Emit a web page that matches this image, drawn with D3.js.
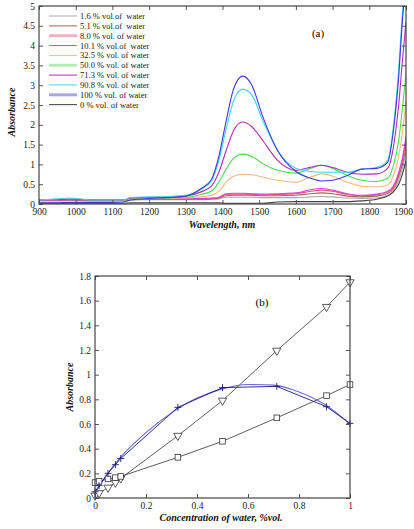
<!DOCTYPE html>
<html>
<head>
<meta charset="utf-8">
<script src="https://cdn.jsdelivr.net/npm/d3@7"></script>
<style>
    body { margin: 0; background: #fff; }
    svg { display: block; }
    text { font-family: "Liberation Serif", "Times New Roman", "DejaVu Serif", serif; }
    .tick-label { font-size: 9.5px; fill: #222; }
    .axis-title { font-size: 10px; font-weight: bold; font-style: italic; fill: #111; }
    .legend-text { font-size: 8.5px; fill: #222; white-space: pre; }
</style>
</head>
<body>
<div id="chart"></div>
<script>
// ---- panel (a): spectra ----
const wavelengths = [900, 950, 980, 1000, 1050, 1100, 1130, 1150, 1200, 1250, 1300, 1340, 1370, 1390, 1410, 1430, 1455, 1480, 1510, 1550, 1600, 1640, 1670, 1700, 1740, 1780, 1820, 1850, 1865, 1880, 1890, 1900];

const water1_6  = [0.08, 0.08, 0.09, 0.09, 0.08, 0.08, 0.08, 0.1, 0.11, 0.11, 0.11, 0.11, 0.12, 0.13, 0.17, 0.17, 0.17, 0.17, 0.16, 0.16, 0.16, 0.18, 0.19, 0.18, 0.15, 0.14, 0.15, 0.22, 0.32, 0.6, 0.9, 1.3];
const water5_1  = [0.09, 0.09, 0.1, 0.1, 0.09, 0.09, 0.09, 0.11, 0.12, 0.12, 0.12, 0.12, 0.13, 0.15, 0.21, 0.22, 0.22, 0.22, 0.21, 0.21, 0.22, 0.26, 0.28, 0.26, 0.2, 0.18, 0.2, 0.27, 0.38, 0.7, 1.0, 1.45];
const water8_0  = [0.1, 0.1, 0.11, 0.11, 0.1, 0.1, 0.1, 0.12, 0.13, 0.13, 0.13, 0.13, 0.14, 0.16, 0.24, 0.25, 0.25, 0.24, 0.23, 0.24, 0.26, 0.32, 0.35, 0.32, 0.24, 0.21, 0.23, 0.3, 0.42, 0.75, 1.1, 1.6];
const water10_1 = [0.1, 0.1, 0.11, 0.11, 0.1, 0.1, 0.1, 0.12, 0.13, 0.13, 0.13, 0.14, 0.15, 0.17, 0.26, 0.27, 0.27, 0.26, 0.25, 0.26, 0.28, 0.36, 0.39, 0.35, 0.26, 0.22, 0.25, 0.32, 0.45, 0.8, 1.15, 1.7];
const water32_5 = [0.1, 0.11, 0.12, 0.12, 0.1, 0.1, 0.1, 0.12, 0.14, 0.14, 0.15, 0.18, 0.22, 0.32, 0.55, 0.7, 0.75, 0.74, 0.68, 0.6, 0.55, 0.68, 0.76, 0.7, 0.55, 0.45, 0.43, 0.48, 0.7, 1.2, 1.8, 2.6];
const water50_0 = [0.1, 0.12, 0.12, 0.12, 0.1, 0.1, 0.1, 0.14, 0.16, 0.16, 0.17, 0.24, 0.32, 0.55, 0.88, 1.15, 1.26, 1.2, 1.02, 0.85, 0.78, 0.9, 0.98, 0.9, 0.72, 0.6, 0.57, 0.65, 0.95, 1.6, 2.4, 3.3];
const water71_3 = [0.1, 0.11, 0.12, 0.12, 0.1, 0.1, 0.1, 0.15, 0.17, 0.17, 0.2, 0.3, 0.45, 0.8, 1.35, 1.85, 2.07, 1.95, 1.6, 1.1, 0.85, 0.93, 0.98, 0.92, 0.8, 0.75, 0.76, 0.9, 1.4, 2.5, 3.6, 4.6];
const water90_8 = [0.1, 0.13, 0.15, 0.14, 0.1, 0.1, 0.1, 0.17, 0.18, 0.19, 0.22, 0.36, 0.58, 1.1, 1.9, 2.6, 2.9, 2.75, 2.1, 1.35, 0.9, 0.82, 0.8, 0.8, 0.8, 0.88, 0.92, 1.1, 1.9, 3.4, 4.8, 5.8];
const water100  = [0.03, 0.03, 0.04, 0.04, 0.04, 0.04, 0.05, 0.1, 0.14, 0.16, 0.2, 0.38, 0.62, 1.2, 2.1, 2.9, 3.23, 3.0, 2.2, 1.35, 0.82, 0.65, 0.58, 0.6, 0.72, 0.88, 0.9, 1.05, 1.8, 3.2, 4.6, 5.6];
const water0    = [0.02, 0.02, 0.02, 0.02, 0.02, 0.02, 0.02, 0.03, 0.03, 0.03, 0.03, 0.03, 0.03, 0.03, 0.02, 0.02, 0.02, 0.02, 0.02, 0.05, 0.06, 0.06, 0.06, 0.06, 0.06, 0.08, 0.12, 0.2, 0.3, 0.5, 0.75, 1.1];

const legendLabels = ["1.6 % vol.of  water", "5.1 % vol.of  water", "8.0 % vol. of water", "10.1 % vol.of  water", "32.5 % vol. of water", "50.0 % vol. of water", "71.3 % vol. of water", "90.8 % vol. of water", "100 % vol. of water", "0 % vol. of water"];
const spectraValues = [water1_6, water5_1, water8_0, water10_1, water32_5, water50_0, water71_3, water90_8, water100, water0];
const spectraColors = ["#a8a8a8", "#9a6a50", "#ec4f7c", "#e040e0", "#f5b880", "#4fdc4f", "#b02cb0", "#3fd4f0", "#3a3ad8", "#404040"];
const legendWide = [false, false, true, false, false, true, false, false, true, false];

const wlTicks = [900, 1000, 1100, 1200, 1300, 1400, 1500, 1600, 1700, 1800, 1900];
const absTicksA = [0, 0.5, 1, 1.5, 2, 2.5, 3, 3.5, 4, 4.5, 5];

// ---- panel (b): absorbance vs concentration ----
const concentration = [0, 0.016, 0.051, 0.080, 0.101, 0.325, 0.500, 0.713, 0.908, 1.0];
const triangleSeries = [0.02, 0.04, 0.085, 0.125, 0.16, 0.505, 0.79, 1.195, 1.55, 1.75];
const squareSeries   = [0.125, 0.135, 0.155, 0.165, 0.175, 0.33, 0.46, 0.65, 0.83, 0.92];
const plusSeries     = [0.05, 0.1, 0.2, 0.27, 0.32, 0.735, 0.895, 0.905, 0.74, 0.605];
const fitConc = [0, 0.05, 0.1, 0.2, 0.3, 0.4, 0.5, 0.6, 0.7, 0.8, 0.9, 1.0];
const fitAbs  = [0.04, 0.2, 0.33, 0.53, 0.69, 0.81, 0.885, 0.92, 0.915, 0.86, 0.76, 0.6];

const concTicks = [0, 0.2, 0.4, 0.6, 0.8, 1];
const absTicksB = [0, 0.2, 0.4, 0.6, 0.8, 1, 1.2, 1.4, 1.6, 1.8];

const serif = "'Liberation Serif', 'Times New Roman', serif";

const svg = d3.select("#chart").append("svg")
    .attr("width", 414)
    .attr("height", 529)
    .attr("font-family", serif);

// draws frame, inward ticks on all four sides and the tick labels
function drawFrame(g, x, y, xTicks, yTicks) {
    let [x0, x1] = x.range();
    let [y0, y1] = y.range();
    let tickLen = 4;

    g.append("g")
        .attr("class", "x-axis")
        .attr("transform", `translate(0,${y0})`)
        .call(d3.axisBottom(x).tickValues(xTicks).tickSize(-tickLen).tickPadding(4).tickFormat(d3.format("")))
        .call(a => a.select(".domain").remove());
    g.append("g")
        .attr("transform", `translate(0,${y1})`)
        .call(d3.axisTop(x).tickValues(xTicks).tickSize(-tickLen).tickFormat(""))
        .call(a => a.select(".domain").remove());
    g.append("g")
        .attr("transform", `translate(${x0},0)`)
        .call(d3.axisLeft(y).tickValues(yTicks).tickSize(-tickLen).tickPadding(4).tickFormat(d3.format("")))
        .call(a => a.select(".domain").remove());
    g.append("g")
        .attr("transform", `translate(${x1},0)`)
        .call(d3.axisRight(y).tickValues(yTicks).tickSize(-tickLen).tickFormat(""))
        .call(a => a.select(".domain").remove());

    g.selectAll("g.tick line").attr("stroke", "#555");
    g.selectAll("g").attr("font-family", serif).attr("font-size", 9.5);
    g.selectAll(".tick text")
        .attr("class", "tick-label")
        .attr("fill", "#222");

    g.append("rect")
        .attr("x", x0).attr("y", y1)
        .attr("width", x1 - x0).attr("height", y0 - y1)
        .attr("fill", "none")
        .attr("stroke", "#444")
        .attr("stroke-width", 1.2);
}

// ---------------- panel (a) ----------------
let xA = d3.scaleLinear().domain([900, 1900]).range([39, 406]);
let yA = d3.scaleLinear().domain([0, 5]).range([204, 6]);
let gA = svg.append("g");

svg.append("defs").append("clipPath").attr("id", "clipA")
    .append("rect")
    .attr("x", 39).attr("y", 6)
    .attr("width", 367).attr("height", 198);

let lineA = d3.line()
    .x(d => xA(d[0]))
    .y(d => yA(d[1]))
    .curve(d3.curveMonotoneX);

gA.append("g").attr("clip-path", "url(#clipA)")
    .selectAll("path")
    .data(spectraValues)
    .enter()
    .append("path")
    .attr("d", vals => lineA(wavelengths.map((w, i) => [w, vals[i]])))
    .attr("fill", "none")
    .attr("stroke", (d, i) => spectraColors[i])
    .attr("stroke-width", 1.1);

drawFrame(gA, xA, yA, wlTicks, absTicksA);

// keep 1900 inside the page like the original
gA.select(".x-axis").selectAll(".tick text")
    .filter(d => d === 1900)
    .attr("dx", -3);

// legend
let legend = gA.append("g").attr("transform", "translate(49,16)");
legendLabels.forEach(function(label, i) {
    let row = legend.append("g").attr("transform", `translate(0,${i * 9.85})`);
    row.append("line")
        .attr("x1", 0).attr("x2", 28)
        .attr("stroke", spectraColors[i])
        .attr("stroke-width", legendWide[i] ? 3 : 1)
        .attr("stroke-opacity", legendWide[i] ? 0.45 : 1);
    row.append("text")
        .attr("class", "legend-text")
        .attr("x", 31)
        .attr("y", 3)
        .text(label);
});

gA.append("text")
    .attr("x", 318).attr("y", 37)
    .attr("text-anchor", "middle")
    .style("font-size", "11px")
    .text("(a)");

gA.append("text")
    .attr("class", "axis-title")
    .attr("transform", "translate(15,112) rotate(-90)")
    .attr("text-anchor", "middle")
    .text("Absorbance");

gA.append("text")
    .attr("class", "axis-title")
    .attr("x", 222).attr("y", 228)
    .attr("text-anchor", "middle")
    .text("Wavelength, nm");

// ---------------- panel (b) ----------------
let xB = d3.scaleLinear().domain([0, 1]).range([95, 350]);
let yB = d3.scaleLinear().domain([0, 1.8]).range([498, 276]);
let gB = svg.append("g");

let lineB = d3.line()
    .x(d => xB(d[0]))
    .y(d => yB(d[1]));

function pairs(xs, ys) {
    return xs.map((v, i) => [v, ys[i]]);
}

gB.append("path")
    .attr("d", lineB(pairs(concentration, triangleSeries)))
    .attr("fill", "none").attr("stroke", "#333").attr("stroke-width", 0.8);
gB.append("path")
    .attr("d", lineB(pairs(concentration, squareSeries)))
    .attr("fill", "none").attr("stroke", "#333").attr("stroke-width", 0.8);
gB.append("path")
    .attr("d", lineB.curve(d3.curveMonotoneX)(pairs(fitConc, fitAbs)))
    .attr("fill", "none").attr("stroke", "#6a6ad8").attr("stroke-width", 1.1);
lineB.curve(d3.curveLinear);
gB.append("path")
    .attr("d", lineB(pairs(concentration, plusSeries)))
    .attr("fill", "none").attr("stroke", "#1c1c78").attr("stroke-width", 0.9);

// markers
gB.selectAll(".tri")
    .data(pairs(concentration, triangleSeries))
    .enter().append("path")
    .attr("class", "tri")
    .attr("transform", d => `translate(${xB(d[0])},${yB(d[1])}) rotate(180)`)
    .attr("d", d3.symbol(d3.symbolTriangle, 30))
    .attr("fill", "#fff").attr("stroke", "#333").attr("stroke-width", 0.8);

gB.selectAll(".sq")
    .data(pairs(concentration, squareSeries))
    .enter().append("rect")
    .attr("class", "sq")
    .attr("x", d => xB(d[0]) - 2.8)
    .attr("y", d => yB(d[1]) - 2.8)
    .attr("width", 5.6).attr("height", 5.6)
    .attr("fill", "#fff").attr("stroke", "#333").attr("stroke-width", 0.8);

gB.selectAll(".plus")
    .data(pairs(concentration, plusSeries))
    .enter().append("path")
    .attr("class", "plus")
    .attr("d", d => `M${xB(d[0]) - 3.5},${yB(d[1])}h7M${xB(d[0])},${yB(d[1]) - 3.5}v7`)
    .attr("stroke", "#1c1c78").attr("stroke-width", 0.9);

drawFrame(gB, xB, yB, concTicks, absTicksB);

gB.append("text")
    .attr("x", 262).attr("y", 306)
    .attr("text-anchor", "middle")
    .style("font-size", "11px")
    .text("(b)");

gB.append("text")
    .attr("class", "axis-title")
    .attr("transform", "translate(73,387) rotate(-90)")
    .attr("text-anchor", "middle")
    .text("Absorbance");

gB.append("text")
    .attr("class", "axis-title")
    .attr("x", 221).attr("y", 521)
    .attr("text-anchor", "middle")
    .text("Concentration of water, %vol.");
</script>
</body>
</html>
